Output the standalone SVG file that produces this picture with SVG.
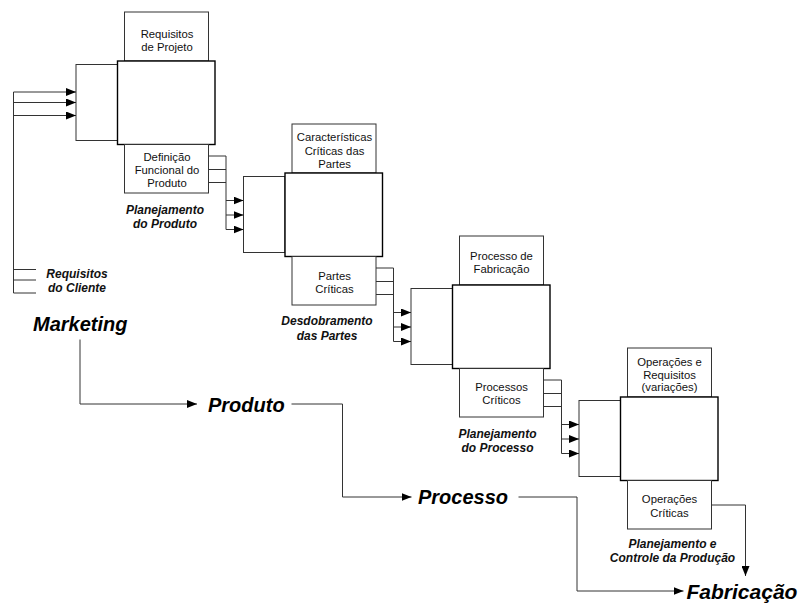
<svg xmlns="http://www.w3.org/2000/svg" width="799" height="603" viewBox="0 0 799 603">
<defs>
<marker id="ah" markerUnits="userSpaceOnUse" markerWidth="10" markerHeight="8" refX="10" refY="4" orient="auto">
<path d="M0,0 L10,4 L0,8 z" fill="#000"/>
</marker>
<style>
.box{fill:#fff;stroke:#333;stroke-width:1}
.main{fill:#fff;stroke:#000;stroke-width:1.4}
.ln{fill:none;stroke:#333;stroke-width:1}
.ar{fill:none;stroke:#333;stroke-width:1;marker-end:url(#ah)}
.t{font-family:"Liberation Sans",Arial,sans-serif;font-size:11.3px;fill:#111;text-anchor:middle}
.lb{font-family:"Liberation Sans",Arial,sans-serif;font-size:12px;font-weight:bold;font-style:italic;fill:#111;text-anchor:middle}
.big{font-family:"Liberation Sans",Arial,sans-serif;font-size:20px;font-weight:bold;font-style:italic;fill:#000}
</style>
</defs>
<rect width="799" height="603" fill="#fff"/>

<g id="block1">
<rect class="box" x="124.5" y="12" width="84" height="49"/>
<rect class="box" x="76" y="64.5" width="41.5" height="76"/>
<rect class="main" x="117.5" y="61" width="97.5" height="83.5"/>
<rect class="box" x="124.5" y="144.5" width="84" height="48.5"/>
<text class="t" x="167" y="37.5">Requisitos</text>
<text class="t" x="167" y="50.5">de Projeto</text>
<text class="t" x="167" y="160.5">Definição</text>
<text class="t" x="167" y="173.8">Funcional do</text>
<text class="t" x="167" y="187">Produto</text>
</g>

<g id="block2">
<rect class="box" x="292" y="124" width="84" height="49"/>
<rect class="box" x="243.5" y="176.5" width="41.5" height="76"/>
<rect class="main" x="285" y="173" width="97.5" height="83.5"/>
<rect class="box" x="292" y="256.5" width="84" height="48.5"/>
<text class="t" x="334.5" y="141.3">Características</text>
<text class="t" x="334.5" y="154.7">Críticas das</text>
<text class="t" x="334.5" y="168">Partes</text>
<text class="t" x="334.5" y="279.7">Partes</text>
<text class="t" x="334.5" y="293">Críticas</text>
</g>

<g id="block3">
<rect class="box" x="459.5" y="236" width="84" height="49"/>
<rect class="box" x="411" y="288.5" width="41.5" height="76"/>
<rect class="main" x="452.5" y="285" width="97.5" height="83.5"/>
<rect class="box" x="459.5" y="368.5" width="84" height="48.5"/>
<text class="t" x="501.5" y="260">Processo de</text>
<text class="t" x="501.5" y="273.3">Fabricação</text>
<text class="t" x="501.5" y="390.7">Processos</text>
<text class="t" x="501.5" y="404">Críticos</text>
</g>

<g id="block4">
<rect class="box" x="627.5" y="348" width="84" height="49"/>
<rect class="box" x="579" y="400.5" width="41.5" height="76"/>
<rect class="main" x="620.5" y="397" width="97.5" height="83.5"/>
<rect class="box" x="627.5" y="480.5" width="84" height="48.5"/>
<text class="t" x="669.5" y="365.7">Operações e</text>
<text class="t" x="669.5" y="378.5">Requisitos</text>
<text class="t" x="669.5" y="391.3">(variações)</text>
<text class="t" x="669.5" y="503.3">Operações</text>
<text class="t" x="669.5" y="516.7">Críticas</text>
</g>

<g id="labels">
<text class="lb" x="165" y="214">Planejamento</text>
<text class="lb" x="165" y="227.8">do Produto</text>
<text class="lb" x="77" y="277.8">Requisitos</text>
<text class="lb" x="77" y="291.6">do Cliente</text>
<text class="lb" x="327" y="325">Desdobramento</text>
<text class="lb" x="327" y="340">das Partes</text>
<text class="lb" x="497.5" y="437.8">Planejamento</text>
<text class="lb" x="497.5" y="452">do Processo</text>
<text class="lb" x="672.5" y="547.5">Planejamento e</text>
<text class="lb" x="672.5" y="562">Controle da Produção</text>
<text class="big" x="33" y="330.5">Marketing</text>
<text class="big" x="208" y="412">Produto</text>
<text class="big" x="418" y="504">Processo</text>
<text class="big" x="686.5" y="598.5" style="font-size:21px">Fabricação</text>
</g>

<g id="connectors">
<!-- customer requirements into block 1 -->
<path class="ln" d="M13.5,92 V293"/>
<path class="ar" d="M13.5,92 H76"/>
<path class="ar" d="M13.5,102.5 H76"/>
<path class="ar" d="M13.5,115.5 H76"/>
<path class="ln" d="M13.5,269.5 H36 M13.5,280 H36 M13.5,293 H36"/>
<!-- block1 to block2 -->
<path class="ln" d="M208.5,156 H226 M208.5,169.5 H226 M208.5,182.5 H226 M226,156 V229.5"/>
<path class="ar" d="M226,200.5 H243.5"/>
<path class="ar" d="M226,215 H243.5"/>
<path class="ar" d="M226,229.5 H243.5"/>
<!-- block2 to block3 -->
<path class="ln" d="M376,268 H393.5 M376,281.5 H393.5 M376,294.5 H393.5 M393.5,268 V341.5"/>
<path class="ar" d="M393.5,312.5 H411"/>
<path class="ar" d="M393.5,327 H411"/>
<path class="ar" d="M393.5,341.5 H411"/>
<!-- block3 to block4 -->
<path class="ln" d="M543.5,380 H561.5 M543.5,393.5 H561.5 M543.5,406.5 H561.5 M561.5,380 V453.5"/>
<path class="ar" d="M561.5,424.5 H579"/>
<path class="ar" d="M561.5,439 H579"/>
<path class="ar" d="M561.5,453.5 H579"/>
<!-- block4 output -->
<path class="ar" d="M711.5,505 H745.5 V576"/>
<!-- main flow -->
<path class="ar" d="M80,339.5 V404 H197"/>
<path class="ar" d="M291.5,404 H342.5 V497 H411.5"/>
<path class="ar" d="M518.5,497 H577 V591 H683.5"/>
</g>
</svg>
